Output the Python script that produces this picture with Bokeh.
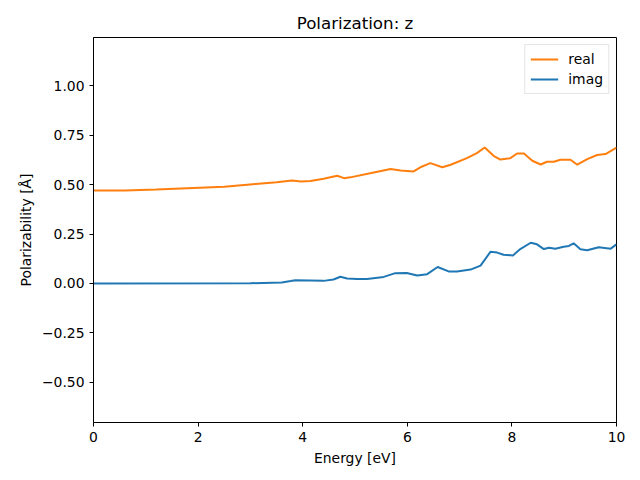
from bokeh.plotting import figure
from bokeh.models import Range1d, FixedTicker, CustomJSTickFormatter, Legend, LegendItem
from bokeh.embed import file_html
from bokeh.resources import INLINE

# Data
energy_real = [0.0, 0.6, 1.2, 2.5, 3.1, 3.5, 3.8, 3.96, 4.15, 4.4, 4.66, 4.79, 4.91, 5.36, 5.68,
               5.87, 6.12, 6.25, 6.44, 6.67, 6.83, 7.14, 7.33, 7.48, 7.65, 7.78, 7.97, 8.10, 8.23,
               8.39, 8.55, 8.67, 8.80, 8.93, 9.12, 9.25, 9.44, 9.63, 9.79, 10.0]
pol_real = [0.470, 0.471, 0.475, 0.489, 0.503, 0.512, 0.521, 0.516, 0.519, 0.530, 0.545, 0.533,
            0.537, 0.562, 0.579, 0.572, 0.567, 0.588, 0.609, 0.588, 0.601, 0.634, 0.660, 0.688,
            0.646, 0.627, 0.634, 0.658, 0.658, 0.621, 0.602, 0.616, 0.616, 0.626, 0.626, 0.601,
            0.629, 0.650, 0.655, 0.688]

energy_imag = [0.0, 3.0, 3.6, 3.77, 3.86, 4.4, 4.59, 4.72, 4.85, 5.04, 5.23, 5.55, 5.77, 5.99,
               6.19, 6.38, 6.58, 6.79, 6.95, 7.21, 7.40, 7.59, 7.72, 7.84, 8.02, 8.16, 8.36, 8.48,
               8.61, 8.71, 8.83, 8.99, 9.09, 9.18, 9.31, 9.44, 9.66, 9.89, 10.0]
pol_imag = [0.0, 0.001, 0.005, 0.012, 0.016, 0.013, 0.020, 0.034, 0.025, 0.022, 0.022, 0.033,
            0.052, 0.053, 0.040, 0.047, 0.083, 0.061, 0.060, 0.070, 0.090, 0.160, 0.156, 0.145,
            0.142, 0.174, 0.206, 0.198, 0.174, 0.181, 0.176, 0.186, 0.190, 0.203, 0.173, 0.168,
            0.183, 0.176, 0.198]

x_ticks = [0, 2, 4, 6, 8, 10]
y_ticks = [-0.5, -0.25, 0.0, 0.25, 0.5, 0.75, 1.0]

FONT = "DejaVu Sans"

p = figure(
    frame_width=523, frame_height=385,
    min_border_left=93, min_border_right=16, min_border_top=37, min_border_bottom=50,
    x_range=Range1d(0, 10), y_range=Range1d(-0.704, 1.245),
    output_backend="svg", toolbar_location=None,
    title="Polarization: z",
)
p.title.align = "center"
p.title.text_font = FONT
p.title.text_font_style = "normal"
p.title.text_font_size = "16.7px"
p.title.text_color = "black"

p.xgrid.visible = False
p.ygrid.visible = False
p.outline_line_color = "black"
p.outline_line_alpha = 1.0
p.outline_line_width = 1

for ax in (p.xaxis[0], p.yaxis[0]):
    ax.axis_line_color = "black"
    ax.major_tick_line_color = "black"
    ax.major_tick_out = 4
    ax.major_tick_in = 0
    ax.minor_tick_line_color = None
    ax.major_label_text_font = FONT
    ax.major_label_text_font_size = "13.9px"
    ax.major_label_text_color = "black"
    ax.axis_label_text_font = FONT
    ax.axis_label_text_font_size = "13.9px"
    ax.axis_label_text_font_style = "normal"
    ax.axis_label_text_color = "black"

p.xaxis[0].ticker = FixedTicker(ticks=x_ticks)
p.yaxis[0].ticker = FixedTicker(ticks=y_ticks)
p.yaxis[0].formatter = CustomJSTickFormatter(
    code='return (tick < 0 ? "\\u2212" : "") + Math.abs(tick).toFixed(2);')
p.xaxis[0].axis_label = "Energy [eV]"
p.yaxis[0].axis_label = "Polarizability [Å]"

r_real = p.line(energy_real, pol_real, line_color="#ff7f0e", line_width=2)
r_imag = p.line(energy_imag, pol_imag, line_color="#1f77b4", line_width=2)

legend = Legend(items=[LegendItem(label="real", renderers=[r_real]),
                       LegendItem(label="imag", renderers=[r_imag])],
                location="top_right")
legend.label_text_font = FONT
legend.label_text_font_size = "13.9px"
legend.label_text_color = "black"
legend.border_line_color = "#cccccc"
legend.border_line_width = 1
legend.margin = 7
legend.padding = 5
legend.spacing = 2
legend.glyph_width = 28
legend.glyph_height = 18
legend.label_standoff = 10
p.add_layout(legend)

open("out.html", "w").write(file_html(p, INLINE))
